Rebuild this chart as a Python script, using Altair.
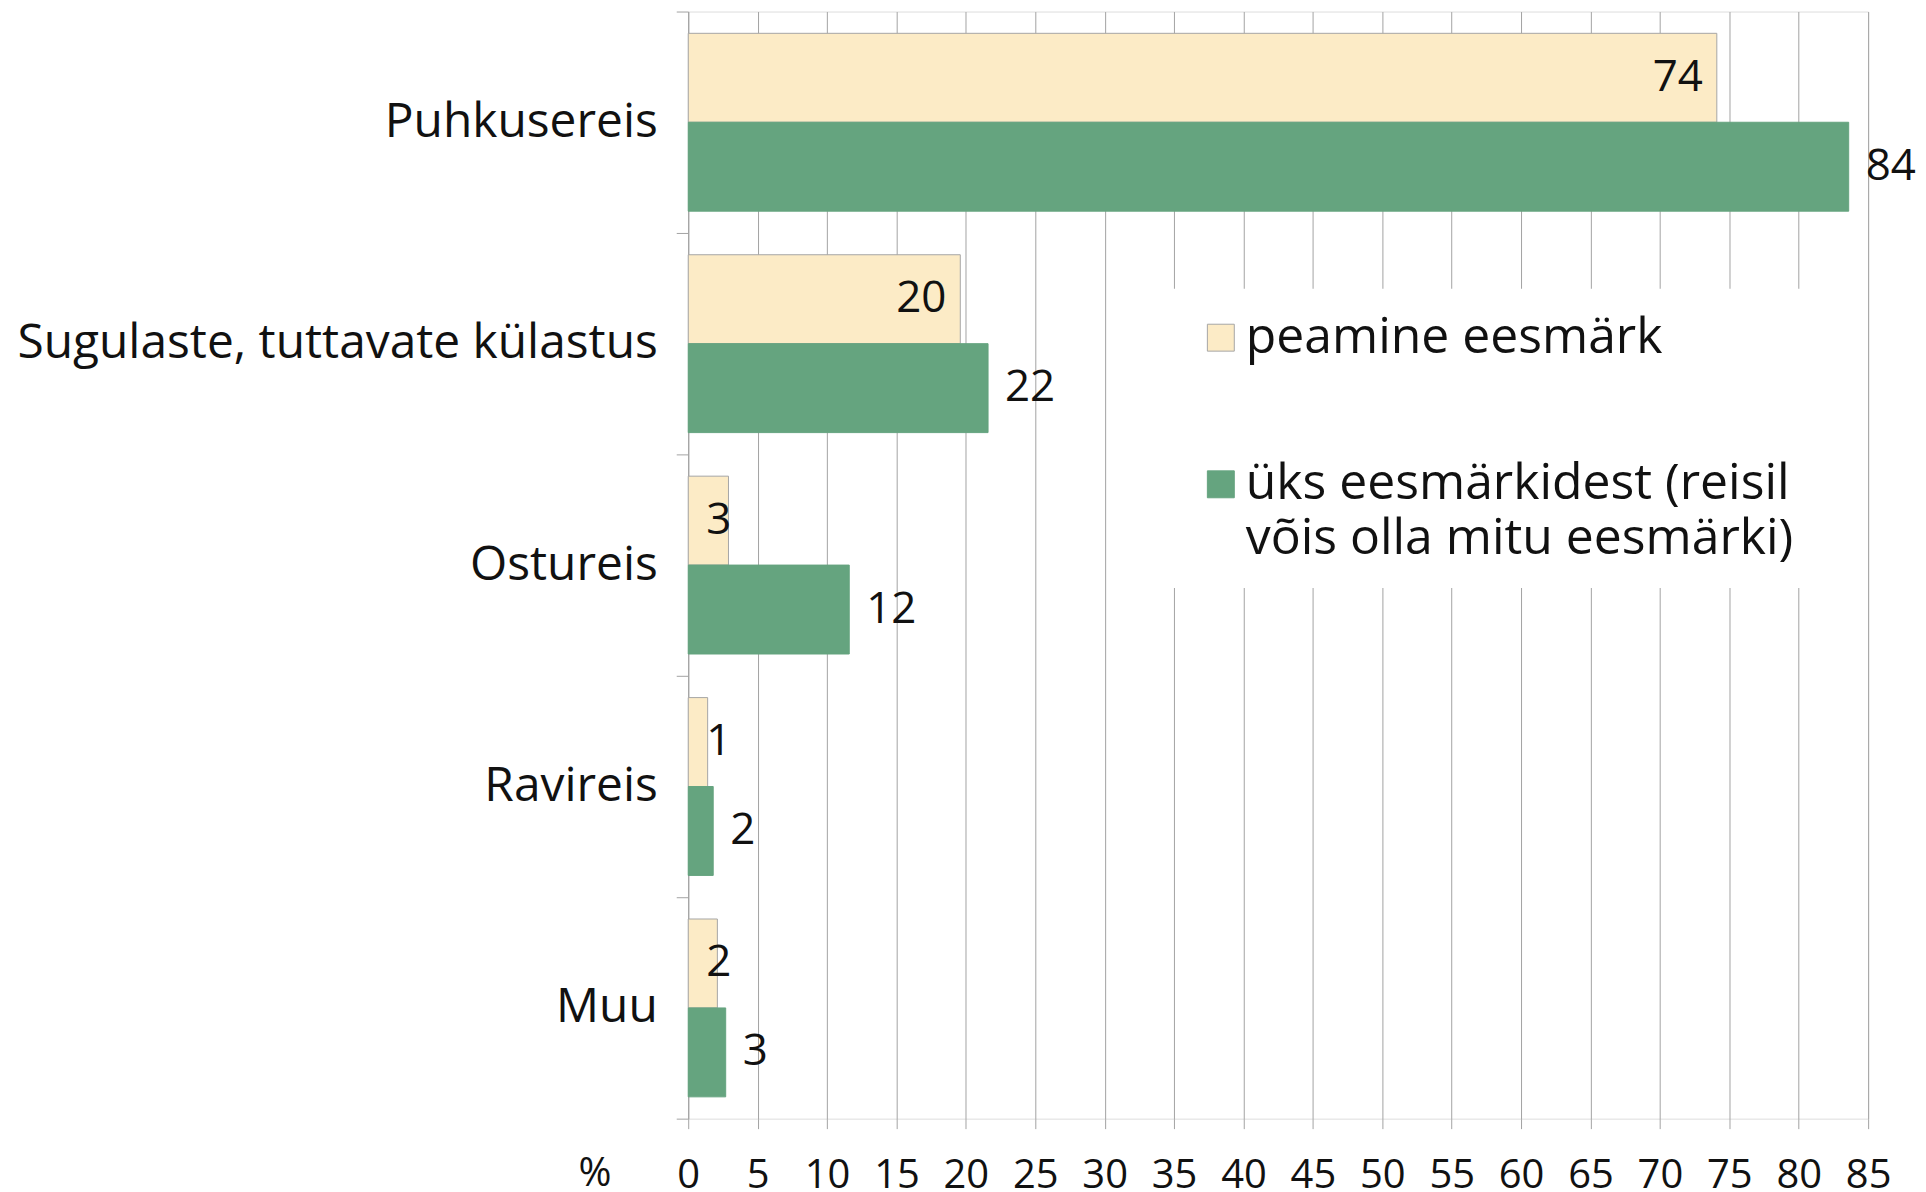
import altair as alt
import pandas as pd

categories = ["Puhkusereis", "Sugulaste, tuttavate külastus", "Ostureis", "Ravireis", "Muu"]
series_names = ["peamine eesmärk", "üks eesmärkidest (reisil võis olla mitu eesmärki)"]
main_values = [74.1, 19.6, 2.9, 1.4, 2.1]
any_values = [83.6, 21.6, 11.6, 1.8, 2.7]
x_ticks = list(range(0, 90, 5))

rows = []
for c, a, b in zip(categories, main_values, any_values):
    rows.append({"cat": c, "series": series_names[0], "v": a})
    rows.append({"cat": c, "series": series_names[1], "v": b})
df = pd.DataFrame(rows)

FONT = "Open Sans"
FS_AXIS = 40
FS_CAT = 48
FS_LEG = 50
FS_VAL = 44
GRID = "#a3a3a3"
TXT = "#111"

y_enc = alt.Y(
    "cat:N", sort=categories,
    scale=alt.Scale(paddingInner=0, paddingOuter=0),
    axis=alt.Axis(title=None, tickBand="extent", tickSize=12, tickColor=GRID,
                  domainColor=GRID, labelFontSize=FS_CAT, labelFont=FONT, labelColor=TXT,
                  labelPadding=19, labelLimit=800),
)
yoff = alt.YOffset("series:N", sort=series_names,
                   scale=alt.Scale(paddingOuter=0.245, paddingInner=0))
x_scale = alt.Scale(domain=[0, 85], nice=False)

bars = alt.Chart(df).mark_bar(strokeWidth=1).encode(
    x=alt.X("v:Q", scale=x_scale,
            axis=alt.Axis(values=x_ticks, grid=True, gridColor=GRID, domain=False,
                          tickSize=10, tickColor=GRID, labelFontSize=FS_AXIS, labelFont=FONT,
                          labelColor=TXT, labelPadding=27, labelFlush=False,
                          title="%", titleFont=FONT, titleFontSize=FS_AXIS, titleFontWeight="normal",
                          titleColor=TXT, titleX=-94, titleY=55, titleAlign="center",
                          titleBaseline="middle", titleAngle=0)),
    y=y_enc,
    yOffset=yoff,
    color=alt.Color("series:N", sort=series_names,
                    scale=alt.Scale(domain=series_names, range=["#FCEBC6", "#65A47F"]),
                    legend=alt.Legend(
                        title=None, orient="none", legendX=485, legendY=278,
                        symbolType="square", symbolSize=729, symbolStrokeColor="#b0b0b0",
                        symbolStrokeWidth=1, labelFont=FONT, labelFontSize=FS_LEG,
                        labelColor=TXT, labelOffset=0, labelLimit=900,
                        labelBaseline="middle", rowPadding=97, padding=24,
                        fillColor="white",
                        labelExpr="indexof(datum.label, '(reisil') > 0 ? ['üks eesmärkidest (reisil', 'võis olla mitu eesmärki)'] : datum.label",
                    )),
    stroke=alt.Stroke("series:N", sort=series_names,
                      scale=alt.Scale(domain=series_names, range=["#a6a6a6", "#65A47F"]),
                      legend=None),
)

lab_main = alt.Chart(df).transform_filter(
    alt.datum.series == series_names[0]
).transform_calculate(
    lx="max(datum.v - 1.0, 1.5 + length(format(datum.v, '.0f')) * 1.6)",
    lt="format(datum.v, '.0f')",
).mark_text(align="right", baseline="middle", font=FONT, fontSize=FS_VAL, color=TXT).encode(
    x=alt.X("lx:Q", scale=x_scale),
    y=y_enc,
    yOffset=yoff,
    text="lt:N",
)

lab_any = alt.Chart(df).transform_filter(
    alt.datum.series == series_names[1]
).transform_calculate(
    lt="format(datum.v, '.0f')",
).mark_text(align="left", baseline="middle", dx=17, font=FONT, fontSize=FS_VAL, color=TXT).encode(
    x=alt.X("v:Q", scale=x_scale),
    y=y_enc,
    yOffset=yoff,
    text="lt:N",
)

chart = alt.layer(bars, lab_main, lab_any).properties(
    width=1183, height=1110,
    autosize=alt.AutoSizeParams(type="none"),
    padding={"left": 682, "top": 2, "right": 50, "bottom": 72},
).configure_view(stroke=None).configure(
    style={"guide-label": {"lineHeight": 55}}
)

chart.save("out.html", embed_options={"renderer": "svg", "actions": False})
